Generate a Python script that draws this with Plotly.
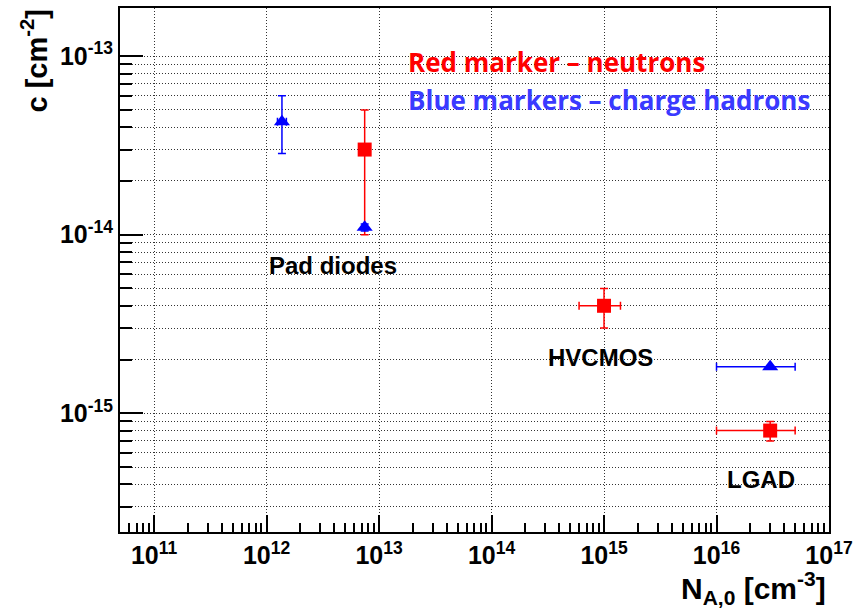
import math
import plotly.graph_objects as go

# Acceptor-removal coefficient c versus initial acceptor concentration N_A,0
# Neutron-irradiated samples (red squares)
n_x = [7.45e12, 1.0e15, 3.0e16]
n_y = [3.0e-14, 4.0e-15, 8.0e-16]
n_y_hi = [5.0e-14, 5.0e-15, 9.0e-16]
n_y_lo = [1.0e-14, 3.0e-15, 7.0e-16]
n_x_lo = [7.45e12, 6.0e14, 1.0e16]
n_x_hi = [7.45e12, 1.4e15, 5.0e16]

# Charged-hadron-irradiated samples (blue triangles)
h_x = [1.37e12, 7.45e12, 3.0e16]
h_y = [4.3e-14, 1.1e-14, 1.82e-15]
h_y_hi = [6.0e-14, 1.15e-14, 1.82e-15]
h_y_lo = [2.85e-14, 1.05e-14, 1.82e-15]
h_x_lo = [1.25e12, 7.45e12, 1.0e16]
h_x_hi = [1.5e12, 7.45e12, 5.0e16]

x_decades = [11, 12, 13, 14, 15, 16, 17]
y_decades = [-13, -14, -15]

group_labels = ["Pad diodes", "HVCMOS", "LGAD"]
group_label_x = [3.9e12, 9.3e14, 2.5e16]
group_label_y = [6.7e-15, 2.06e-15, 4.23e-16]

RED = "#ff0000"
BLUE = "#0000ff"
GRID = "#333333"
DOTS = "1px,2px"


def err(vals, lo, hi):
    plus = [h - v for v, h in zip(vals, hi)]
    minus = [v - l for v, l in zip(vals, lo)]
    return plus, minus


fig = go.Figure()

ny_p, ny_m = err(n_y, n_y_lo, n_y_hi)
nx_p, nx_m = err(n_x, n_x_lo, n_x_hi)
fig.add_trace(go.Scatter(
    x=n_x, y=n_y, mode="markers",
    marker=dict(symbol="square", size=14, color=RED),
    error_y=dict(type="data", array=ny_p, arrayminus=ny_m, color=RED, thickness=1.5, width=4),
    error_x=dict(type="data", array=nx_p, arrayminus=nx_m, color=RED, thickness=1.5, width=4),
    showlegend=False,
))

hy_p, hy_m = err(h_y, h_y_lo, h_y_hi)
hx_p, hx_m = err(h_x, h_x_lo, h_x_hi)
fig.add_trace(go.Scatter(
    x=h_x, y=h_y, mode="markers",
    marker=dict(symbol="triangle-up", size=14, color=BLUE),
    error_y=dict(type="data", array=hy_p, arrayminus=hy_m, color=BLUE, thickness=1.5, width=4),
    error_x=dict(type="data", array=hx_p, arrayminus=hx_m, color=BLUE, thickness=1.5, width=4),
    showlegend=False,
))

x_minor = [m * 10.0 ** e for e in range(10, 17) for m in range(2, 10)]
y_minor = [m * 10.0 ** e for e in range(-17, -12) for m in range(2, 10)]

tick_font = dict(family="Liberation Sans, Arial", size=25, color="black", weight="bold")

fig.update_xaxes(
    type="log", range=[10.697, 17.0],
    tickvals=[10.0 ** d for d in x_decades],
    ticktext=[f"10<sup>{d}</sup>" for d in x_decades],
    ticks="inside", ticklen=17, tickwidth=1.5, tickcolor="black",
    showline=True, linecolor="black", linewidth=2, mirror=True,
    showgrid=True, gridcolor=GRID, griddash=DOTS, gridwidth=1,
    zeroline=False, tickfont=tick_font,
    minor=dict(tickvals=x_minor, ticks="inside", ticklen=9, tickwidth=1.5,
               tickcolor="black", showgrid=False),
)

fig.update_yaxes(
    type="log", range=[-15.665, -12.73],
    tickvals=[10.0 ** d for d in y_decades],
    ticktext=[f"10<sup>{d}</sup>" for d in y_decades],
    ticks="inside", ticklen=23, tickwidth=1.5, tickcolor="black",
    showline=True, linecolor="black", linewidth=2, mirror=True,
    showgrid=True, gridcolor=GRID, griddash=DOTS, gridwidth=1,
    zeroline=False, tickfont=tick_font,
    minor=dict(tickvals=y_minor, ticks="inside", ticklen=12, tickwidth=1.5,
               tickcolor="black", showgrid=True, gridcolor=GRID, griddash=DOTS),
)

annotations = []
# annotations on log axes are positioned in log10 units
for txt, gx, gy in zip(group_labels, group_label_x, group_label_y):
    annotations.append(dict(
        x=math.log10(gx), y=math.log10(gy), xref="x", yref="y",
        text=f"<b>{txt}</b>", showarrow=False,
        font=dict(family="Liberation Sans, Arial", size=24, color="black"),
        xanchor="center", yanchor="middle",
    ))

annotations.append(dict(
    x=0.404, y=0.897, xref="paper", yref="paper", text="<b>Red marker – neutrons</b>",
    showarrow=False, xanchor="left", yanchor="middle",
    font=dict(family="Open Sans, sans-serif", size=26, color="#ff0000"),
))
annotations.append(dict(
    x=0.404, y=0.825, xref="paper", yref="paper", text="<b>Blue markers – charge hadrons</b>",
    showarrow=False, xanchor="left", yanchor="middle",
    font=dict(family="Open Sans, sans-serif", size=26, color="#3a3aff"),
))

# axis titles
annotations.append(dict(
    x=0, y=1.0, xref="paper", yref="paper", xshift=-86,
    text="<b>c [cm<sup>-2</sup>]</b>", textangle=-90, showarrow=False,
    xanchor="center", yanchor="top",
    font=dict(family="Liberation Sans, Arial", size=29, color="black"),
))
annotations.append(dict(
    x=1.0, y=0, xref="paper", yref="paper", yshift=-56, xshift=-1,
    text="<b>N<sub>A,0</sub> [cm<sup>-3</sup>]</b>", showarrow=False,
    xanchor="right", yanchor="middle",
    font=dict(family="Liberation Sans, Arial", size=30, color="black"),
))

fig.update_layout(
    width=863, height=611,
    margin=dict(l=120, r=34, t=6, b=79),
    paper_bgcolor="white", plot_bgcolor="white",
    annotations=annotations,
    showlegend=False,
)

fig.write_html("out.html")
